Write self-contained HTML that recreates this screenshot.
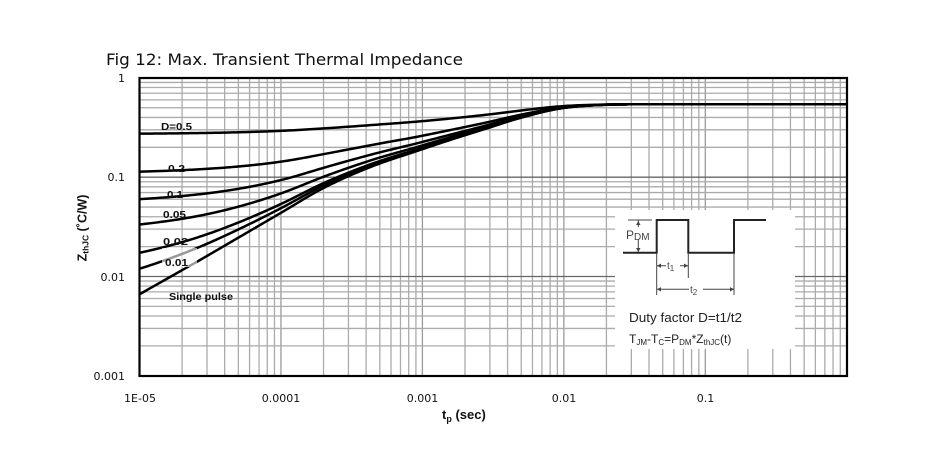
<!DOCTYPE html>
<html><head><meta charset="utf-8"><style>
html,body{margin:0;padding:0;background:#fff;}
svg{display:block;}
</style></head><body>
<svg width="945" height="465" viewBox="0 0 945 465" xmlns="http://www.w3.org/2000/svg">
<rect x="0" y="0" width="945" height="465" fill="#fff"/>
<text x="106" y="65" font-family="DejaVu Sans, Liberation Sans, sans-serif" font-size="16" fill="#111" textLength="357" lengthAdjust="spacingAndGlyphs">Fig 12: Max. Transient Thermal Impedance</text>

<g stroke="#ababab" stroke-width="1.3" fill="none">
<path d="M182.08,78V376M206.99,78V376M224.66,78V376M238.37,78V376M249.57,78V376M259.04,78V376M267.24,78V376M274.48,78V376
M323.53,78V376M348.44,78V376M366.11,78V376M379.82,78V376M391.02,78V376M400.49,78V376M408.69,78V376M415.93,78V376
M464.98,78V376M489.89,78V376M507.56,78V376M521.27,78V376M532.47,78V376M541.94,78V376M550.14,78V376M557.38,78V376
M606.43,78V376M631.34,78V376M649.01,78V376M662.72,78V376M673.92,78V376M683.39,78V376M691.59,78V376M698.83,78V376
M747.88,78V376M772.79,78V376M790.46,78V376M804.17,78V376M815.37,78V376M824.84,78V376M833.04,78V376M840.28,78V376"/>
<path d="M280.95,78V376M422.4,78V376M563.85,78V376M705.3,78V376" stroke="#9a9a9a"/>
<path d="M140,82.44H847M140,87.52H847M140,93.28H847M140,99.89H847M140,107.78H847M140,117.43H847M140,129.82H847M140,147.31H847
M140,181.74H847M140,186.82H847M140,192.58H847M140,199.19H847M140,207.08H847M140,216.73H847M140,229.12H847M140,246.61H847
M140,281.04H847M140,286.12H847M140,291.88H847M140,298.49H847M140,306.38H847M140,316.03H847M140,328.42H847M140,345.91H847"/>
<path d="M140,177.2H847M140,276.5H847" stroke="#666"/>
</g>

<rect x="615" y="210" width="180" height="139" fill="#fff"/>

<g fill="none" stroke="#000" stroke-width="2.5" stroke-linejoin="round" stroke-linecap="round">
<polyline id="c0" points="140,133.7 170,133.4 200,133.0 240,132.2 280,130.9 323,128.4 370,125.2 420,121.4 450,118.6 485,114.9 520,110.6 560,106.4 600,104.65 650,104.3 847,104.3"/>
<polyline id="c1" points="140,171.6 170,170.7 200,169.3 240,166.4 280,161.8 323,154.3 370,145.3 420,136.2 450,130.1 485,122.8 520,114.9 560,107.6 600,104.9 650,104.3 847,104.3"/>
<polyline id="c2" points="140,199.1 170,197.0 200,194.2 240,188.5 280,180.3 323,168.0 370,154.9 420,142.6 450,134.8 485,125.8 520,116.4 560,108.1 600,104.9 650,104.3 847,104.3"/>
<polyline id="c3" points="140,224.4 170,220.7 200,215.6 240,206.2 280,193.7 323,177.0 370,160.6 420,146.1 450,137.3 485,127.4 520,117.2 560,108.3 600,105.0 650,104.3 847,104.3"/>
<polyline id="c4" points="140,252.7 170,245.5 200,236.6 240,221.9 280,204.4 323,183.4 370,164.4 420,148.4 450,138.9 485,128.3 520,117.7 560,108.4 600,105.0 650,104.3 847,104.3"/>
<polyline id="c5" points="140,268.6 170,258.4 200,246.7 240,228.6 280,208.7 323,185.8 370,165.8 420,149.2 450,139.4 485,128.7 520,117.8 560,108.5 600,105.0 650,104.3 847,104.3"/>
<polyline id="c6" points="140,294 170,277 200,260 240,236.7 280,213.4 323,188.3 370,167.2 420,150 450,140 485,129 520,118 560,108.5 600,105 650,104.3 847,104.3"/>
</g>
<rect x="162" y="248" width="35" height="19" fill="#fff" opacity="0.6"/>

<g font-family="Liberation Sans, Arial, sans-serif" font-weight="bold" font-size="10.5" fill="#111">
<text x="161" y="130" textLength="31" lengthAdjust="spacingAndGlyphs">D=0.5</text>
<text x="168" y="172" textLength="17" lengthAdjust="spacingAndGlyphs">0.2</text>
<text x="167" y="198" textLength="16" lengthAdjust="spacingAndGlyphs">0.1</text>
<text x="163" y="218" textLength="23" lengthAdjust="spacingAndGlyphs">0.05</text>
<text x="163" y="245" textLength="25" lengthAdjust="spacingAndGlyphs">0.02</text>
<text x="165" y="266" textLength="23" lengthAdjust="spacingAndGlyphs">0.01</text>
<text x="169" y="300" textLength="64" lengthAdjust="spacingAndGlyphs">Single pulse</text>
</g>

<g fill="none" stroke="#222" stroke-width="2">
<path d="M623,252.7H656.7V220H688.3V252.7H734V220H766"/>
</g>
<g fill="none" stroke="#444" stroke-width="1">
<path d="M628,220H652"/>
<path d="M638.3,220V227M638.3,240V252"/>
<path d="M656.7,253V295M688.3,253V278M734,253V295"/>
<path d="M657,265.7H666M680,265.7H688"/>
<path d="M657,289.3H689M703,289.3H734"/>
</g>
<g fill="#444">
<path d="M638.3,221l-2.2,4h4.4z"/>
<path d="M638.3,252l-2.2,-4h4.4z"/>
<path d="M657,265.7l4,-2.2v4.4z"/>
<path d="M688,265.7l-4,-2.2v4.4z"/>
<path d="M657,289.3l4,-2.2v4.4z"/>
<path d="M734,289.3l-4,-2.2v4.4z"/>
</g>
<g font-family="Liberation Sans, Arial, sans-serif" fill="#444">
<text x="626" y="239" font-size="12">P<tspan font-size="10" dy="1">DM</tspan></text>
<text x="667" y="269" font-size="10">t<tspan font-size="8" dy="2">1</tspan></text>
<text x="690" y="293" font-size="10">t<tspan font-size="8" dy="2">2</tspan></text>
</g>
<g font-family="Liberation Sans, Arial, sans-serif" fill="#222">
<text x="629" y="322" font-size="12.5" textLength="113" lengthAdjust="spacingAndGlyphs">Duty factor D=t1/t2</text>
<text x="629" y="343" font-size="12">T<tspan font-size="8" dy="2">JM</tspan><tspan dy="-2">-T</tspan><tspan font-size="8" dy="2">C</tspan><tspan dy="-2">=P</tspan><tspan font-size="8" dy="2">DM</tspan><tspan dy="-2">*Z</tspan><tspan font-size="8" dy="2">thJC</tspan><tspan dy="-2">(t)</tspan></text>
</g>

<rect x="139.5" y="78" width="707.5" height="298" fill="none" stroke="#000" stroke-width="2.2"/>

<g font-family="DejaVu Sans, Liberation Sans, sans-serif" font-size="11" fill="#111" text-anchor="end">
<text x="125" y="82">1</text>
<text x="125" y="181">0.1</text>
<text x="125" y="281">0.01</text>
<text x="125" y="380">0.001</text>
</g>
<g font-family="DejaVu Sans, Liberation Sans, sans-serif" font-size="11" fill="#111" text-anchor="middle">
<text x="140" y="402">1E-05</text>
<text x="281" y="402">0.0001</text>
<text x="422.5" y="402">0.001</text>
<text x="564" y="402">0.01</text>
<text x="705.5" y="402">0.1</text>
</g>
<text x="442" y="419" font-family="Liberation Sans, Arial, sans-serif" font-weight="bold" font-size="13" fill="#111">t<tspan font-size="9" dy="3">p</tspan><tspan dy="-3"> (sec)</tspan></text>
<text transform="translate(86.5,228) rotate(-90)" text-anchor="middle" font-family="Liberation Sans, Arial, sans-serif" font-weight="bold" font-size="12.5" fill="#111">Z<tspan font-size="8.5" dy="2">thJC</tspan><tspan dy="-2"> (˚C/W)</tspan></text>
</svg>
<script>
(function(){
  try{
  var P=[[140,294],[170,277],[200,260],[240,236.7],[280,213.4],[323,188.3],[370,167.2],[420,150],[450,140],[485,129],[520,118],[560,108.5],[600,105],[650,104.3],[700,104.3],[847,104.3]];
  var n=P.length,d=[],m=[],i;
  for(i=0;i<n-1;i++)d.push((P[i+1][1]-P[i][1])/(P[i+1][0]-P[i][0]));
  m[0]=d[0];m[n-1]=d[n-2];
  for(i=1;i<n-1;i++){m[i]=(d[i-1]*d[i]<=0)?0:(d[i-1]+d[i])/2;}
  function f(x){
    var k=0;while(k<n-2&&x>P[k+1][0])k++;
    var x0=P[k][0],x1=P[k+1][0],h=x1-x0,t=(x-x0)/h,t2=t*t,t3=t2*t;
    return (2*t3-3*t2+1)*P[k][1]+(t3-2*t2+t)*h*m[k]+(-2*t3+3*t2)*P[k+1][1]+(t3-t2)*h*m[k+1];
  }
  function Z(y){return Math.pow(10,-(y-78)/99.3);}
  function Y(z){return 78-99.3*Math.log(z)/Math.LN10;}
  var Rinf=Z(104.3);
  var Ds=[0.5,0.2,0.1,0.05,0.02,0.01,0];
  for(var c=0;c<Ds.length;c++){
    var D=Ds[c],pts=[];
    for(var x=140;x<=847;x+=2){
      var zs=Z(f(x));var zd=D*Rinf+(1-D)*zs;
      pts.push(x+","+Y(zd).toFixed(2));
    }
    var el=document.getElementById("c"+c);
    if(el)el.setAttribute("points",pts.join(" "));
  }
  }catch(e){}
})();
</script>
</body></html>
